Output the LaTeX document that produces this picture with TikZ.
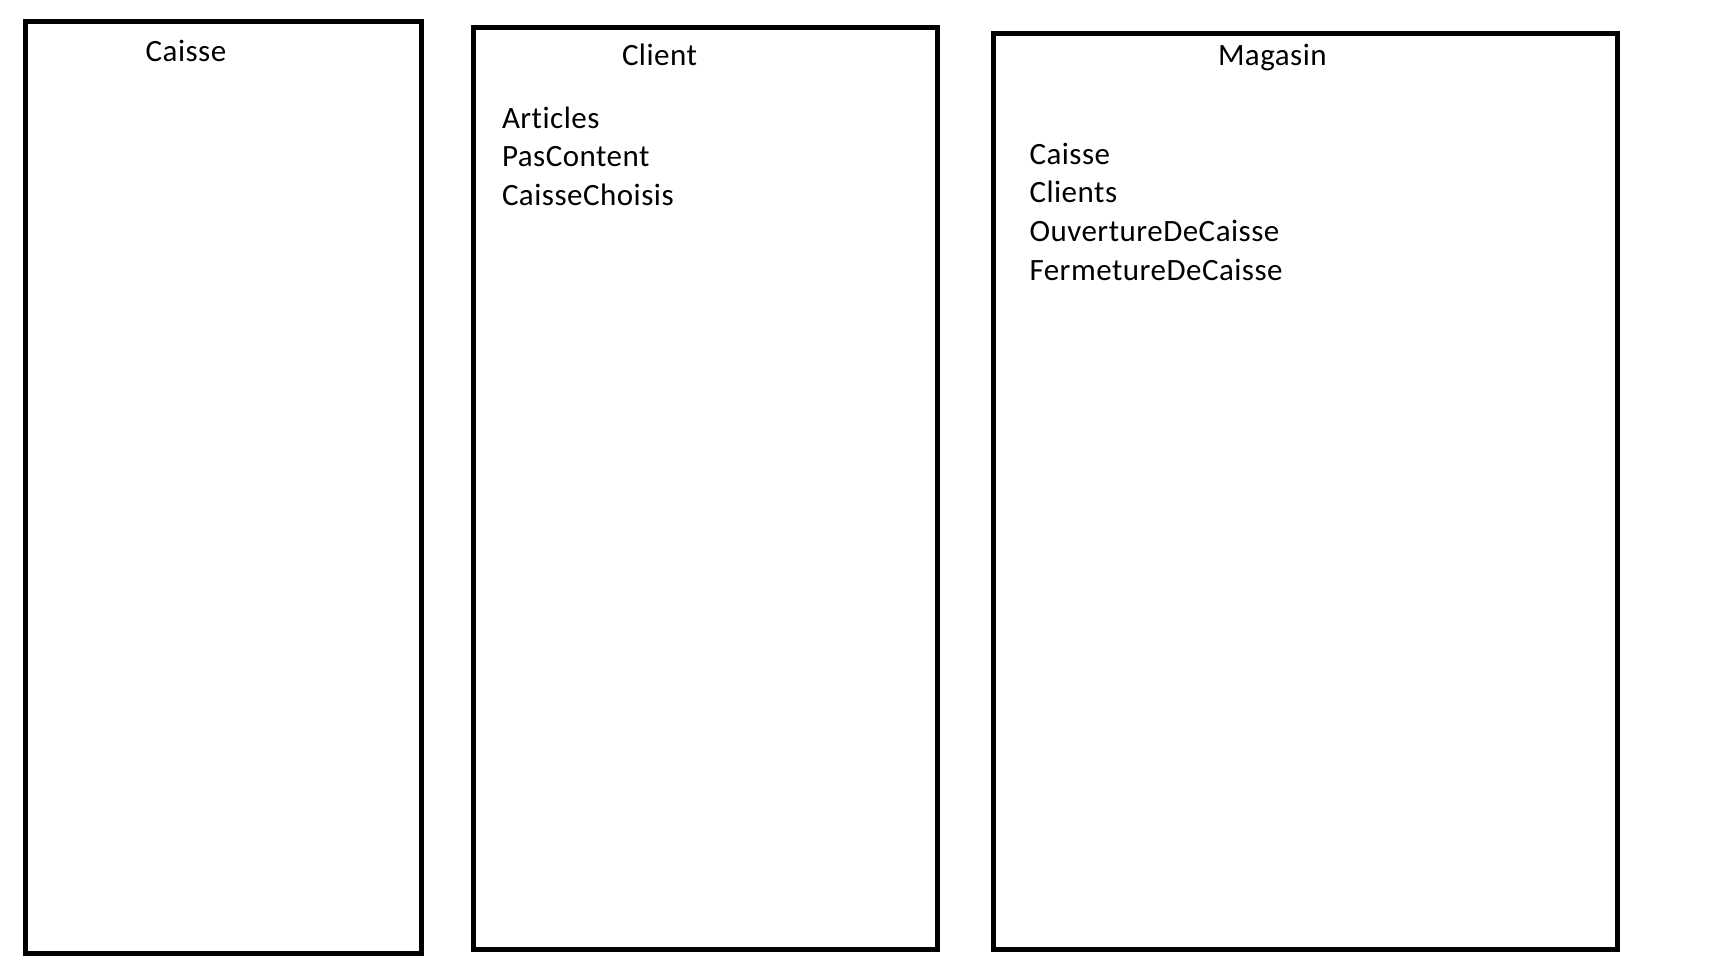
\documentclass[tikz,border=0pt]{standalone}
\usepackage{fontspec}
\setmainfont[Ligatures=NoCommon,LetterSpace=1.6]{Carlito}
\begin{document}
\begin{tikzpicture}[x=1pt,y=-1pt,
  classbox/.style={draw=black,line width=5pt,rectangle,inner sep=0pt,outer sep=0pt,anchor=north west},
  lbl/.style={inner sep=0pt,outer sep=0pt,anchor=base west,font=\fontsize{31}{38}\selectfont}]
\useasboundingbox (0,0) rectangle (1712,964);
% boxes
\node[classbox,minimum width=395.7pt,minimum height=931.6pt] (caisse) at (25.3,21.7) {};
\node[classbox,minimum width=463.4pt,minimum height=921.8pt] (client) at (473.6,27.5) {};
\node[classbox,minimum width=623.5pt,minimum height=915.6pt] (magasin) at (993.5,33.7) {};
% titles
\node[lbl] (tcaisse) at (145.7,61) {Caisse};
\node[lbl] (tclient) at (622,65.5) {Client};
\node[lbl] (tmagasin) at (1218,65) {Magasin};
% client attributes
\node[lbl] (c1) at (502,128.3) {Articles};
\node[lbl] (c2) at (502,166.7) {PasContent};
\node[lbl] (c3) at (502,205) {CaisseChoisis};
% magasin attributes
\node[lbl] (m1) at (1029.5,164) {Caisse};
\node[lbl] (m2) at (1029.5,202.7) {Clients};
\node[lbl] (m3) at (1029.5,241.7) {OuvertureDeCaisse};
\node[lbl] (m4) at (1029.5,280.7) {FermetureDeCaisse};
\end{tikzpicture}
\end{document}
